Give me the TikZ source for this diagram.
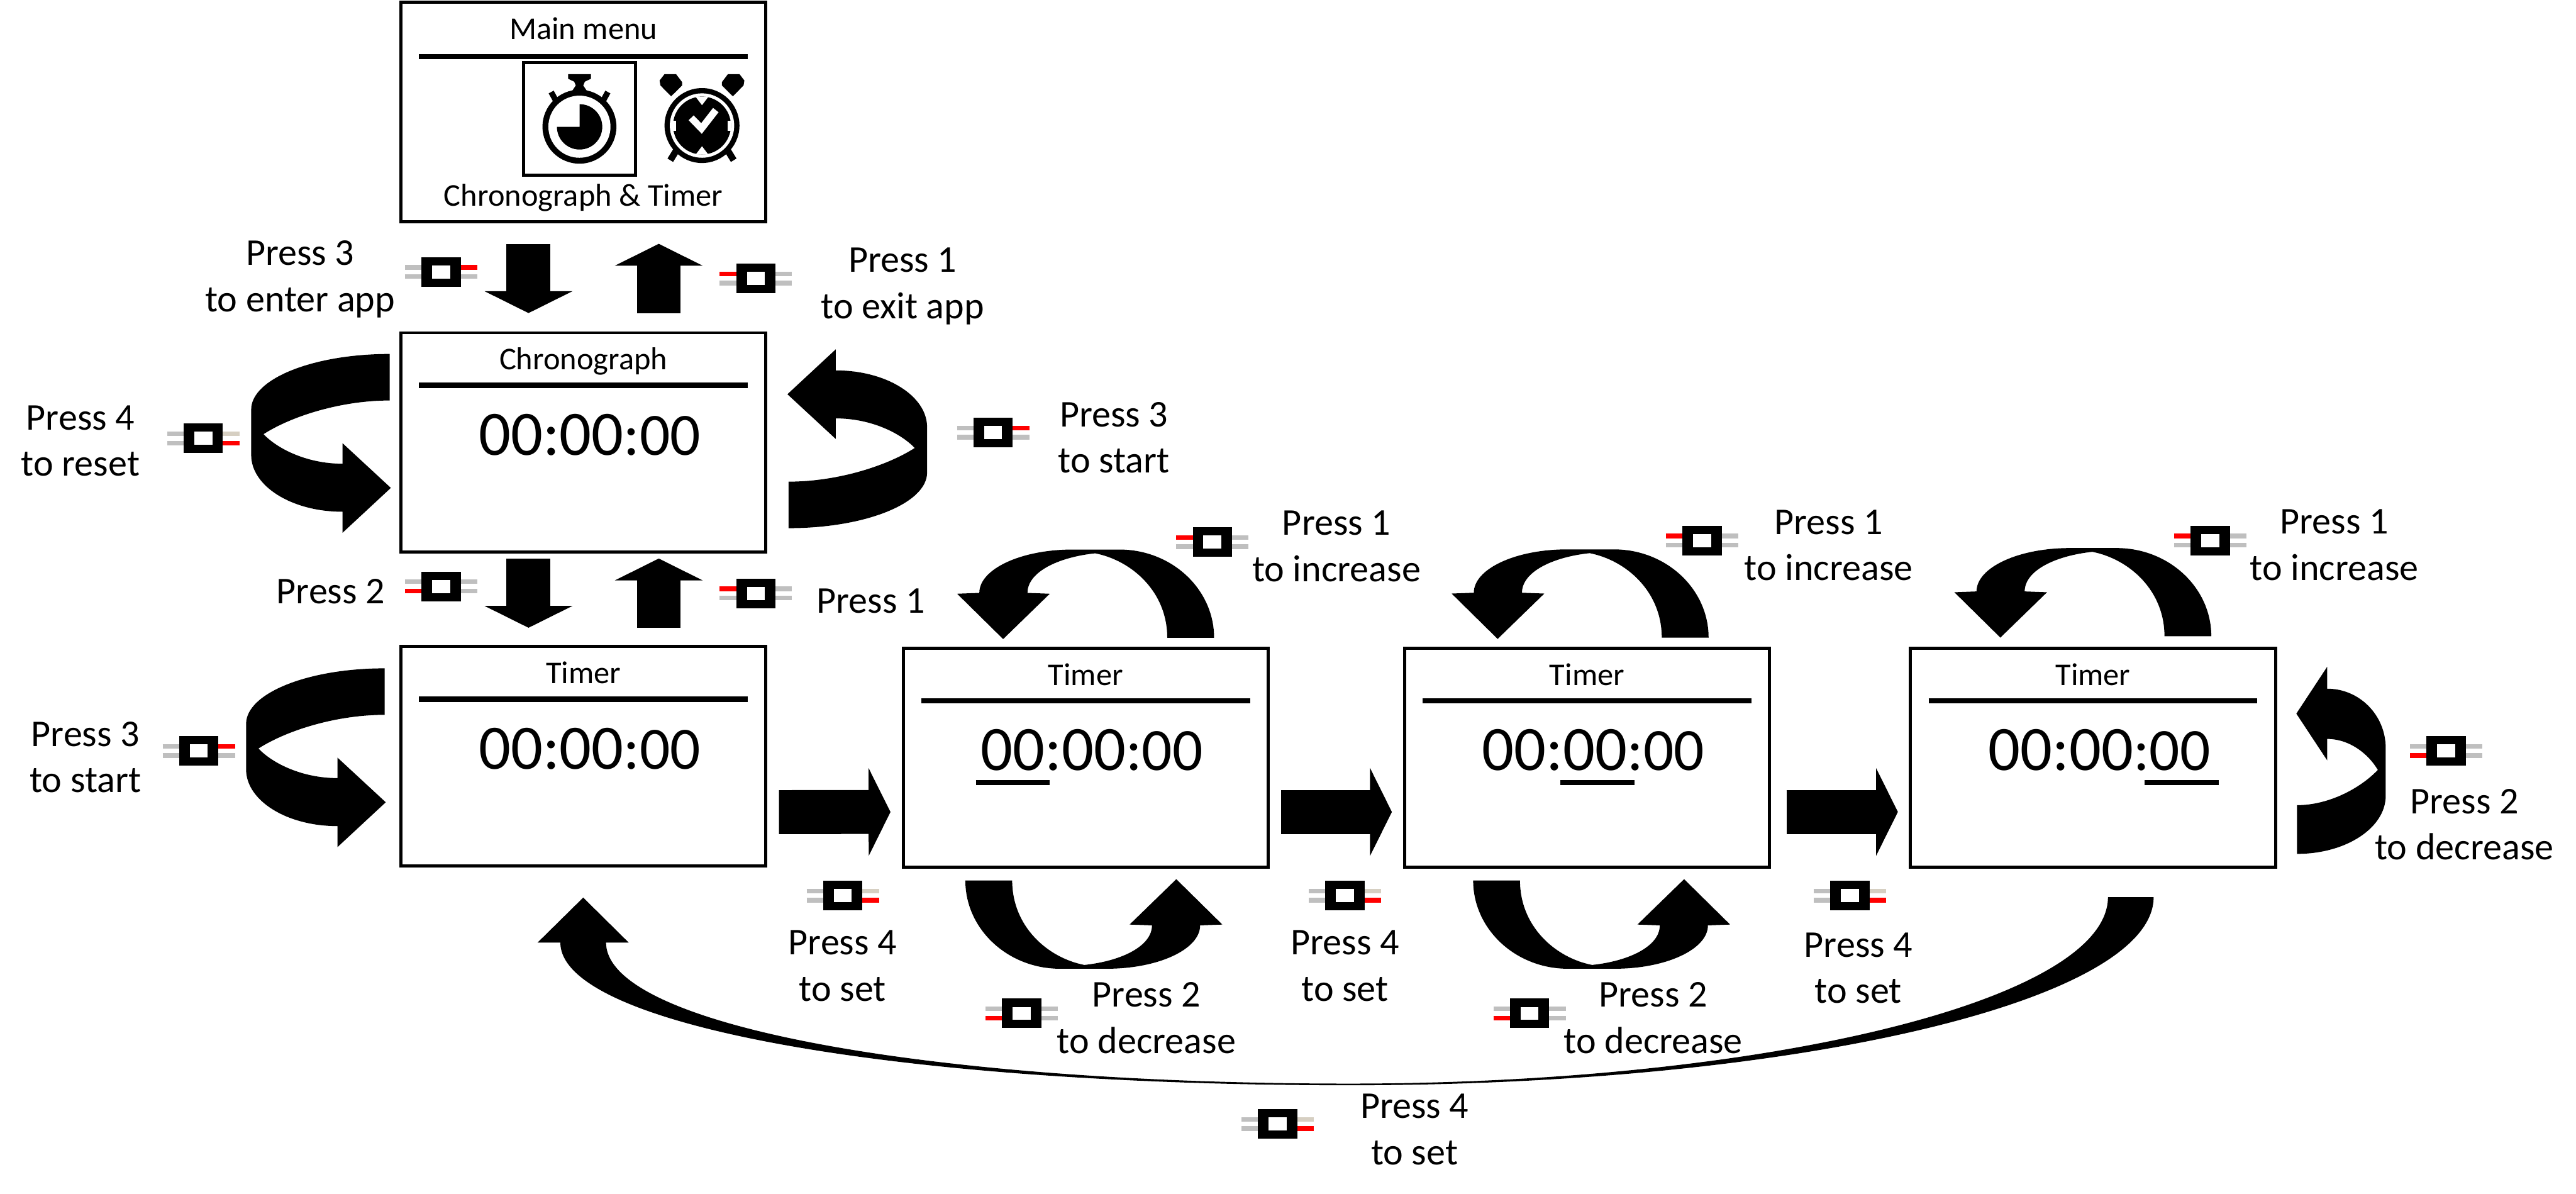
\documentclass[tikz,border=0pt]{standalone}
\usepackage{fontspec}
\setmainfont{Carlito}
\usetikzlibrary{arrows.meta}
\definecolor{leadgray}{HTML}{BFBFBF}
\definecolor{leadtan}{HTML}{D6CFC2}
\definecolor{leadred}{HTML}{FF0000}
\newcommand{\btnbody}{%
  \fill[black] (-12,-9) rectangle (12,9);
  \fill[white] (-5.5,-4) rectangle (5.5,4);}
\newcommand{\clocktext}{\fontsize{21.9}{26}\selectfont 00:00\fontsize{20.8}{26}\selectfont :00}
\tikzset{
  % screens
  screen/.style={draw=black,fill=white,line width=0.038cm,inner sep=0pt,outer sep=0pt,
                 minimum width=4.444cm,minimum height=2.668cm},
  screentitle/.style={font=\fontsize{10.98}{13}\selectfont,inner sep=0pt,anchor=base},
  screenclock/.style={inner sep=0pt,anchor=base west},
  screenrule/.style={draw=black,line width=0.065cm},
  iconframe/.style={draw=black,line width=0.038cm,inner sep=0pt,minimum width=1.36cm,minimum height=1.37cm},
  % labels
  lbl/.style={font=\fontsize{13.1}{16.05}\selectfont,align=center,inner sep=0pt,
              execute at begin node=\strut,execute at end node=\strut},
  % arrows
  blockarrow/.style={-{Triangle[length=0.266cm,width=1.06cm]},draw=black,line width=0.535cm},
  sidearrow/.pic={
    \fill[black] (0,0) .. controls (-46.5,0) and (-84.3,15.1) .. (-84.3,33.8) -- (-84.3,61.5)
      .. controls (-84.3,80.5) and (-59.5,96) .. (-28.7,96) -- (-28.7,108.8) -- (0.7,81.5) -- (-28.7,54.3) -- (-28.7,66.8)
      .. controls (-50,66.8) and (-68,58) .. (-76.8,48.8) .. controls (-60,38) and (-30,28.3) .. (0,28.3) -- cycle;
  },
  toparrow/.pic={
    \fill[black] (0,0) .. controls (0,-29.6) and (-25.8,-53.7) .. (-57.7,-53.7) -- (-86,-53.7)
      .. controls (-117.4,-53.7) and (-142.9,-41.9) .. (-142.9,-27.3) -- (-156.4,-26.8) -- (-128.4,0.8) -- (-100,-26.8) -- (-113.6,-27.3)
      .. controls (-113.6,-40) and (-95,-49) .. (-72.4,-51.4) .. controls (-50,-47) and (-28.5,-28) .. (-28.5,0) -- cycle;
  },
  % buttons
  press1/.pic={
    \draw[leadgray,line width=0.056cm] (-22,2.8) -- (22,2.8) (0,-2.8) -- (22,-2.8);
    \draw[leadred,line width=0.056cm] (-22,-2.8) -- (0,-2.8);
    \btnbody
  },
  press2/.pic={
    \draw[leadgray,line width=0.056cm] (-22,-2.8) -- (22,-2.8) (0,2.8) -- (22,2.8);
    \draw[leadred,line width=0.056cm] (-22,2.8) -- (0,2.8);
    \btnbody
  },
  press3/.pic={
    \draw[leadgray,line width=0.056cm] (-22,2.8) -- (22,2.8) (-22,-2.8) -- (0,-2.8);
    \draw[leadred,line width=0.056cm] (0,-2.8) -- (22,-2.8);
    \btnbody
  },
  press4/.pic={
    \draw[leadgray,line width=0.056cm] (-22,2.8) -- (0,2.8) (-22,-2.8) -- (0,-2.8);
    \draw[leadtan,line width=0.056cm] (0,-2.8) -- (22,-2.8);
    \draw[leadred,line width=0.056cm] (0,2.8) -- (22,2.8);
    \btnbody
  },
}
\begin{document}
\begin{tikzpicture}[x=0.02cm,y=-0.02cm]
\useasboundingbox (0,0) rectangle (1568,726.3);
  \node[screen] (menu) at (355.1,68.1) {};
  \node[screen] (chrono) at (355.1,269.2) {};
  \node[screen] (timera) at (355.1,460.2) {};
  \node[screen] (timerb) at (660.8,461.1) {};
  \node[screen] (timerc) at (966,461.1) {};
  \node[screen] (timerd) at (1274,461.1) {};

  \node[screentitle] (menutitle) at ([yshift=-0.45cm]menu.north) {Main menu};
  \node[screentitle] (menuapp) at ([yshift=0.19cm]menu.south) {Chronograph \& Timer};
  \node[screentitle] (chronotitle) at ([yshift=-0.45cm]chrono.north) {Chronograph};
  \node[screentitle] (timeratitle) at ([yshift=-0.45cm]timera.north) {Timer};
  \node[screentitle] (timerbtitle) at ([yshift=-0.45cm]timerb.north) {Timer};
  \node[screentitle] (timerctitle) at ([yshift=-0.45cm]timerc.north) {Timer};
  \node[screentitle] (timerdtitle) at ([yshift=-0.45cm]timerd.north) {Timer};

  \draw[screenrule] ([xshift=0.22cm,yshift=-0.66cm]menu.north west) -- ([xshift=-0.22cm,yshift=-0.66cm]menu.north east);
  \draw[screenrule] ([xshift=0.22cm,yshift=-0.64cm]chrono.north west) -- ([xshift=-0.22cm,yshift=-0.64cm]chrono.north east);
  \draw[screenrule] ([xshift=0.22cm,yshift=-0.64cm]timera.north west) -- ([xshift=-0.22cm,yshift=-0.64cm]timera.north east);
  \draw[screenrule] ([xshift=0.22cm,yshift=-0.64cm]timerb.north west) -- ([xshift=-0.22cm,yshift=-0.64cm]timerb.north east);
  \draw[screenrule] ([xshift=0.22cm,yshift=-0.64cm]timerc.north west) -- ([xshift=-0.22cm,yshift=-0.64cm]timerc.north east);
  \draw[screenrule] ([xshift=0.22cm,yshift=-0.64cm]timerd.north west) -- ([xshift=-0.22cm,yshift=-0.64cm]timerd.north east);

  \node[screenclock] (chronoclock) at ([xshift=0.94cm,yshift=-1.49cm]chrono.north west) {\clocktext};
  \node[screenclock] (timeraclock) at ([xshift=0.94cm,yshift=-1.49cm]timera.north west) {\clocktext};
  \node[screenclock] (timerbclock) at ([xshift=0.94cm,yshift=-1.49cm]timerb.north west) {\clocktext};
  \node[screenclock] (timercclock) at ([xshift=0.94cm,yshift=-1.49cm]timerc.north west) {\clocktext};
  \node[screenclock] (timerdclock) at ([xshift=0.94cm,yshift=-1.49cm]timerd.north west) {\clocktext};

  \draw[screenrule] ([xshift=0.886cm,yshift=-1.636cm]timerb.north west) -- ([xshift=1.786cm,yshift=-1.636cm]timerb.north west);
  \draw[screenrule] ([xshift=1.9cm,yshift=-1.636cm]timerc.north west) -- ([xshift=2.8cm,yshift=-1.636cm]timerc.north west);
  \draw[screenrule] ([xshift=2.85cm,yshift=-1.636cm]timerd.north west) -- ([xshift=3.75cm,yshift=-1.636cm]timerd.north west);

  \node[iconframe] (chronoicon) at (352.8,72.3) {};
  \fill[black] (352.7,77.1) circle[radius=22.5];
  \fill[white] (352.7,77.1) circle[radius=18.9];
  \fill[black] (352.8,77.2) -- (352.8,63.4) arc[start angle=-90,end angle=180,radius=13.8] -- cycle;
  \fill[black] (345.8,45.1) -- (359.7,45.1) -- (359.7,47.9) -- (356,49.7) -- (355,52) -- (358,56.5) -- (347.5,56.5) -- (350.5,52) -- (349.5,49.7) -- (345.8,47.9) -- cycle;
  \draw[black,line width=0.07cm] (335.5,56) -- (338.5,61.5);
  \draw[black,line width=0.07cm] (370,56) -- (367,61.5);

  \fill[black] (404.5,45.1) -- (411.5,45.1) -- (415.2,50) -- (415.2,52) -- (408.5,58.6) -- (402,52) -- (401.5,49) -- cycle;
  \fill[black] (450.1,45.1) -- (443.1,45.1) -- (439.4,50) -- (439.4,52) -- (446.1,58.6) -- (452.6,52) -- (453.1,49) -- cycle;
  \draw[black,line width=0.08cm] (412,91) -- (408,97.5);
  \draw[black,line width=0.08cm] (442.6,91) -- (446.6,97.5);
  \fill[black] (427.3,76.4) circle[radius=22.8];
  \fill[white] (427.3,76.4) circle[radius=19.6];
  \fill[black] (427.3,76.4) circle[radius=17.6];
  \fill[white] (423.5,59) -- (431.1,59) -- (427.3,64) -- cycle;
  \fill[white] (423.5,94) -- (431.1,94) -- (427.3,89) -- cycle;
  \fill[white] (409.5,73.5) rectangle (411.5,79.5);
  \fill[white] (443,73.5) rectangle (445,79.5);
  \draw[white,line width=0.085cm] (420.7,71.7) -- (427,78.2) -- (435.7,67);

  \draw[blockarrow] ([xshift=-0.668cm,yshift=-0.272cm]menu.south) -- ([xshift=-0.668cm,yshift=0.24cm]chrono.north);
  \draw[blockarrow] ([xshift=0.918cm,yshift=0.24cm]chrono.north) -- ([xshift=0.918cm,yshift=-0.272cm]menu.south);
  \draw[blockarrow] ([xshift=-0.668cm,yshift=-0.08cm]chrono.south) -- ([xshift=-0.668cm,yshift=0.23cm]timera.north);
  \draw[blockarrow] ([xshift=0.918cm,yshift=0.23cm]timera.north) -- ([xshift=0.918cm,yshift=-0.08cm]chrono.south);
  \draw[blockarrow] ([xshift=0.16cm,yshift=-0.68cm]timera.east) -- ([xshift=-0.154cm,yshift=-0.66cm]timerb.west);
  \draw[blockarrow] ([xshift=0.16cm,yshift=-0.66cm]timerb.east) -- ([xshift=-0.154cm,yshift=-0.66cm]timerc.west);
  \draw[blockarrow] ([xshift=0.206cm,yshift=-0.66cm]timerc.east) -- ([xshift=-0.154cm,yshift=-0.66cm]timerd.west);

  \pic at (237.2,215.4) {sidearrow};
  \pic[rotate=180] at (480,321.4) {sidearrow};
  \pic at (234.1,406.7) {sidearrow};
  \pic[rotate=180,xscale=0.64,yscale=1.047] at (1398.2,519.6) {sidearrow};
  \pic at (739,388.1) {toparrow};
  \pic at (1040,388) {toparrow};
  \pic at (1346,387.2) {toparrow};
  \pic[rotate=180] at (587.6,535.8) {toparrow};
  \pic[rotate=180] at (896.7,535.8) {toparrow};
  \fill[black] (1310.9,545.9) .. controls (1310.9,609) and (1094,660.4) .. (821.4,660.4)
    .. controls (545,660.4) and (341.1,624) .. (341.1,573.6) -- (327.2,573.6) -- (355,546.2) -- (382.7,573.6) -- (368.9,573.6)
    .. controls (368.9,624) and (565,659.4) .. (821.4,659.4) .. controls (1073,659.4) and (1283.1,609) .. (1283.1,545.9) -- cycle;

  \pic at (268.5,165.5) {press3};
  \pic at (460.1,169.5) {press1};
  \pic at (123.7,266.8) {press4};
  \pic at (604.5,263.2) {press3};
  \pic at (268.5,356.8) {press2};
  \pic at (460.1,361.1) {press1};
  \pic at (121,457) {press3};
  \pic at (738,329.9) {press1};
  \pic at (1036,329) {press1};
  \pic at (1345.3,329) {press1};
  \pic at (1489,457) {press2};
  \pic at (513,545) {press4};
  \pic at (818.7,545) {press4};
  \pic at (1126,545) {press4};
  \pic at (621.9,616.7) {press2};
  \pic at (931,616.7) {press2};
  \pic at (777.8,684) {press4};

  \node[lbl] (enterlbl) at (182.7,172.3) {Press 3\\to enter app};
  \node[lbl] (exitlbl) at (549.4,176.5) {Press 1\\to exit app};
  \node[lbl] (resetlbl) at (49,272.5) {Press 4\\to reset};
  \node[lbl] (startlbl) at (678,270.5) {Press 3\\to start};
  \node[lbl] (timerlbl) at (201.3,361.7) {Press 2};
  \node[lbl] (chronolbl) at (530,367.3) {Press 1};
  \node[lbl] (startalbl) at (52,465) {Press 3\\to start};
  \node[lbl] (incblbl) at (813.5,336.5) {Press 1\\to increase};
  \node[lbl] (incclbl) at (1113,336) {Press 1\\to increase};
  \node[lbl] (incdlbl) at (1420.8,335.7) {Press 1\\to increase};
  \node[lbl] (decdlbl) at (1500,505.9) {Press 2\\to decrease};
  \node[lbl] (setalbl) at (512.9,592) {Press 4\\to set};
  \node[lbl] (setblbl) at (818.7,592) {Press 4\\to set};
  \node[lbl] (setclbl) at (1131.2,593.3) {Press 4\\to set};
  \node[lbl] (decblbl) at (697.8,623.6) {Press 2\\to decrease};
  \node[lbl] (decclbl) at (1006.3,623.6) {Press 2\\to decrease};
  \node[lbl] (setdlbl) at (861,691.5) {Press 4\\to set};
\end{tikzpicture}
\end{document}
